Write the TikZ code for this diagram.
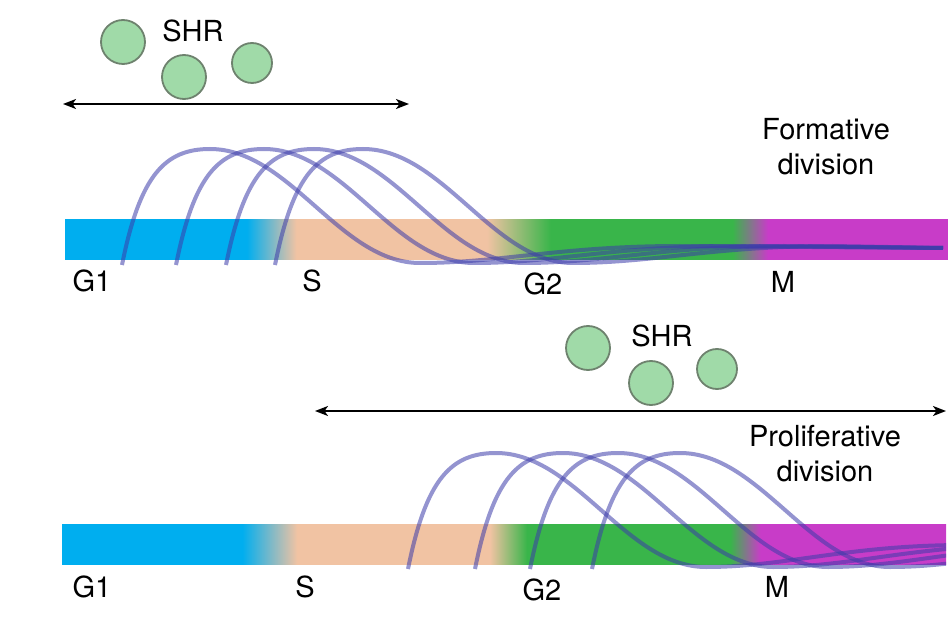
\documentclass[tikz,border=0pt]{standalone}
\usepackage{fontspec}
\setmainfont{TeX Gyre Heros}
\usetikzlibrary{arrows.meta, positioning}

\definecolor{phaseblue}{RGB}{0,174,239}
\definecolor{phasepeach}{RGB}{241,195,163}
\definecolor{phasegreen}{RGB}{57,181,74}
\definecolor{phasemag}{RGB}{200,60,200}
\definecolor{shrfill}{RGB}{160,218,168}
\definecolor{shrline}{RGB}{110,130,110}
\definecolor{tracecol}{RGB}{60,60,170}

% cell cycle bars, stops mapped onto 25bp..75bp
\pgfdeclarehorizontalshading{formbar}{100bp}{color(0bp)=(phaseblue);
    color(35.3bp)=(phaseblue); color(38.1bp)=(phasepeach);
    color(48.9bp)=(phasepeach); color(52.5bp)=(phasegreen);
    color(62.8bp)=(phasegreen); color(64.8bp)=(phasemag);
    color(100bp)=(phasemag)}
\pgfdeclarehorizontalshading{prolbar}{100bp}{color(0bp)=(phaseblue);
    color(35.2bp)=(phaseblue); color(38.3bp)=(phasepeach);
    color(49.2bp)=(phasepeach); color(51.3bp)=(phasegreen);
    color(62.8bp)=(phasegreen); color(64.5bp)=(phasemag);
    color(100bp)=(phasemag)}

\begin{document}
\begin{tikzpicture}[x=1pt, y=-1pt,
    every node/.style={font=\fontsize{29}{35}\selectfont, inner sep=0pt},
    phase/.style={anchor=base},
    note/.style={align=center, anchor=base},
    shr/.style={circle, draw=shrline, line width=1.8pt, fill=shrfill,
        minimum size=44pt},
    span/.style={{Stealth[length=13pt,width=10pt,inset=3.5pt]}-{Stealth[length=13pt,width=10pt,inset=3.5pt]},
        line width=1.8pt, black},
    trace/.style={draw=tracecol, opacity=0.55, line width=4pt}]

    \useasboundingbox (0,0) rectangle (948,628);

    % formative division
    \shade[shading=formbar] (65,220) rectangle (948,260);

    \node[shr] (shra) at (123,42) {};
    \node[shr] (shrb) at (184,77) {};
    \node[shr, minimum size=40pt] (shrc) at (252,63) {};
    \node[phase] (shrtop) at (193,42) {SHR};

    \coordinate (fl) at (63,104);
    \coordinate (fr) at (409,104);
    \draw[span] (fl) -- (fr);

    \node[note] (form) at (826,175) {Formative\\division};

    \foreach \xs in {122,176,226,275}{
        \draw[trace] (\xs,265) .. controls +(18,-90) and +(-45,0) .. ++(88,-116)
            .. controls +(80,0) and +(-80,0) .. ++(210,114)
            .. controls +(80,0) and +(-120,0) .. ++(260,-17) -- (943,248);
    }

    \node[phase] (g1a) at (92,292) {G1};
    \node[phase] (sa) at (312,292) {S};
    \node[phase] (g2a) at (543,295) {G2};
    \node[phase] (ma) at (783,293) {M};

    % proliferative division
    \shade[shading=prolbar] (62,524) rectangle (946,564);

    \node[shr] (shrd) at (588,348) {};
    \node[shr] (shre) at (651,383) {};
    \node[shr, minimum size=40pt] (shrf) at (717,369) {};
    \node[phase] (shrbot) at (662,347) {SHR};

    \coordinate (pl) at (315,411);
    \coordinate (pr) at (946,411);
    \draw[span] (pl) -- (pr);

    \node[note] (prol) at (825,481) {Proliferative\\division};

    \begin{scope}
        \clip (0,0) rectangle (946,628);
        \foreach \xs in {408,475,530,592}{
            \draw[trace] (\xs,569) .. controls +(18,-90) and +(-45,0) .. ++(88,-116)
                .. controls +(80,0) and +(-80,0) .. ++(210,114)
                .. controls +(80,0) and +(-120,0) .. ++(260,-22) -- ++(300,0);
        }
    \end{scope}

    \node[phase] (g1b) at (92,597) {G1};
    \node[phase] (sb) at (305,597) {S};
    \node[phase] (g2b) at (542,600) {G2};
    \node[phase] (mb) at (777,597) {M};

\end{tikzpicture}
\end{document}
